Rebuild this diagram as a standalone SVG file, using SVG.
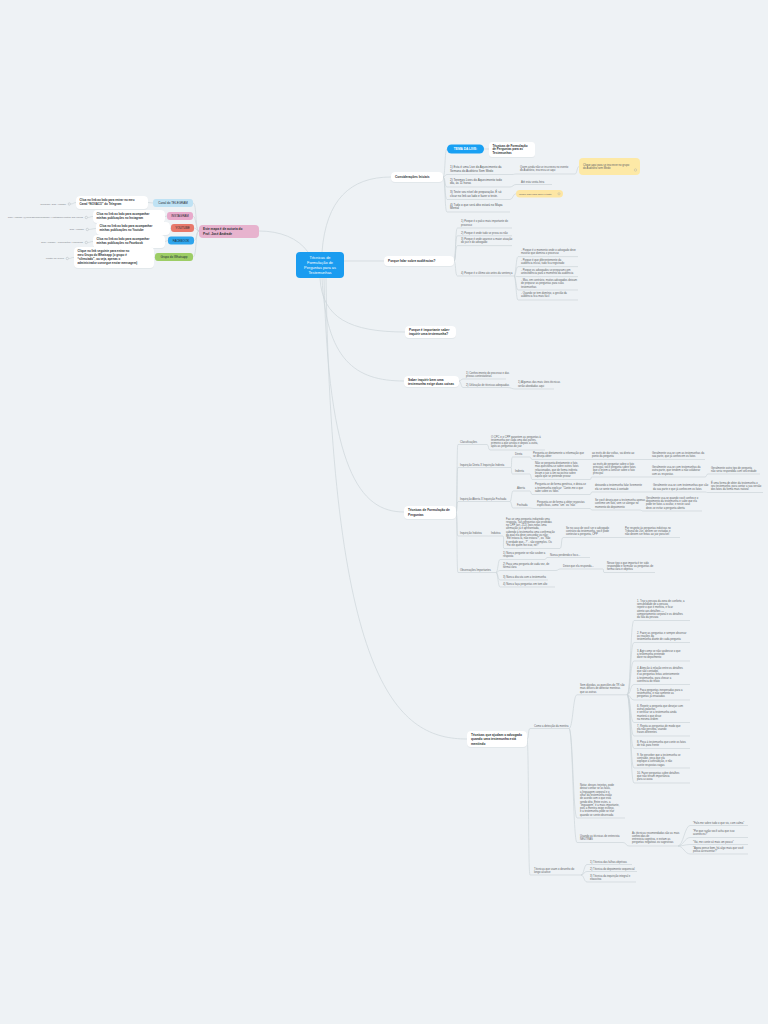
<svg xmlns="http://www.w3.org/2000/svg" width="768" height="1024" viewBox="0 0 768 1024">
<defs>
<filter id="sh" x="-10%" y="-30%" width="120%" height="160%"><feDropShadow dx="0" dy="0.4" stdDeviation="0.5" flood-color="#7d8e99" flood-opacity="0.25"/></filter>
<style>
text{font-family:"Liberation Sans",Arial,sans-serif}
.c{fill:none;stroke:#cdd5da;stroke-width:.7}
.n{fill:#fff;filter:url(#sh)}
.b{font-size:3.2px;font-weight:bold;fill:#2d3135}
.s{font-size:2.7px;fill:#5d6266}
.s2{font-size:3px;fill:#55595d}
.w{font-size:2.9px;font-weight:bold;fill:#2d3135}
.l{font-size:2.4px;fill:#7b8085;text-anchor:end}
.lab{font-size:3px;fill:#1f2a33;text-anchor:middle}
.ic{fill:none;stroke:#9aa2a8;stroke-width:.35}
</style>
</defs>
<rect width="768" height="1024" fill="#eef2f5"/>

<g id="connectors">
<path class="c" d="M308,252 C298,238 280,231 259,231"/>
<path class="c" d="M199,231 C195,231 197,203 193,203"/>
<path class="c" d="M199,231 C196,231 196,216 193,216"/>
<path class="c" d="M199,231 C196,231 197,228 194,228"/>
<path class="c" d="M199,231 C196,231 197,240.5 194,240.5"/>
<path class="c" d="M199,231 C195,231 197,257 193,257"/>
<path class="c" d="M153,203 L148,202.5"/>
<path class="c" d="M167,216 L165,216.5"/>
<path class="c" d="M171,228 L170,228.5"/>
<path class="c" d="M168,240.5 L165,241.5"/>
<path class="c" d="M155,257 L154,257.5"/>
<path class="c" d="M76,202.5 C74,202.5 73,204 71,204"/>
<path class="c" d="M93,216.5 C90,216.5 90,217.5 88,217.5"/>
<path class="c" d="M96,228.5 C93,228.5 91,229.5 89,229.5"/>
<path class="c" d="M93,241.5 C90,241.5 90,242.5 88,242.5"/>
<path class="c" d="M74,257.5 C71,257.5 71,258.5 69,258.5"/>

<path class="c" d="M322,252 C326,200 350,177 391,177"/>
<path class="c" d="M344,261 L384,261"/>
<path class="c" d="M320,278 C322,318 350,332 405,332"/>
<path class="c" d="M322,278 C326,360 355,381 404,381"/>
<path class="c" d="M324,278 C328,470 360,512 404,512"/>
<path class="c" d="M326,278 C332,690 400,739 467,739"/>

<path class="c" d="M443,177 C445.5,177 444.5,149 447,149"/>
<path class="c" d="M484,149 H489"/>
<path class="c" d="M443,177 C445.5,177 444.5,174.5 447,174.5 H512"/>
<path class="c" d="M443,177 C445.5,177 444.5,187 447,187 H510"/>
<path class="c" d="M443,177 C445.5,177 444.5,199.5 447,199.5 H510"/>
<path class="c" d="M443,177 C445.5,177 444.5,212 447,212 H510"/>
<path class="c" d="M512,174.5 C514,174.5 514,174 516,174 H575 C577,174 577,166.5 579,166.5"/>
<path class="c" d="M510,187 C513,187 513,184.5 516,184.5 H552"/>
<path class="c" d="M510,199.5 C513,199.5 513,193.7 516,193.7"/>

<path class="c" d="M454,261 C456,261 455,228 457.5,228 H512"/>
<path class="c" d="M454,261 C456,261 455,235.8 457.5,235.8 H512"/>
<path class="c" d="M454,261 C456,261 455,245.6 457.5,245.6 H512"/>
<path class="c" d="M454,261 C456,261 455,276 457.5,276 H514"/>
<path class="c" d="M514,276 C516,276 516,256.6 518,256.6 H578"/>
<path class="c" d="M514,276 C516,276 516,266.6 518,266.6 H578"/>
<path class="c" d="M514,276 C516,276 516,276.6 518,276.6 H578"/>
<path class="c" d="M514,276 C516,276 516,290 518,290 H578"/>
<path class="c" d="M514,276 C516,276 516,300 518,300 H578"/>

<path class="c" d="M459,381 C461,381 461,379 463,379 H506"/>
<path class="c" d="M459,381 C461,381 461,387.5 463,387.5 H508 C511,387.5 512,389 515,389 H554"/>

<path class="c" d="M456,512 C457.5,512 456.5,444.5 458,444.5 H487 C489,444.5 488,450 490,450 H545"/>
<path class="c" d="M456,512 C457.5,512 456.5,467.5 458,467.5 H511"/>
<path class="c" d="M456,512 C457.5,512 456.5,501.5 458,501.5 H510"/>
<path class="c" d="M456,512 C457.5,512 456.5,536 458,536 H487 C488.5,536 488.5,536 490,536 H503 C504.5,536 502.5,548.5 504,548.5 H560 C562,548.5 561,537.5 563,537.5 H680"/>
<path class="c" d="M456,512 C457.5,512 456.5,572.5 458,572.5 H496"/>
<path class="c" d="M511,467.5 C512,467.5 511,457 512.5,457 H530 C531,457 531,459.5 532,459.5 H705"/>
<path class="c" d="M511,467.5 C512,467.5 511,474 512.5,474 H530 C531,474 531,479.5 532,479.5 H590 C592,479.5 590,477 592,477 H705 C707,477 706,474 708,474 H760"/>
<path class="c" d="M510,501.5 C511.5,501.5 511.5,491 513,491 H530 C531,491 531,494.5 532,494.5 H590 C591,494.5 591,492 592,492 H705 C707,492 706,492.5 708,492.5 H763"/>
<path class="c" d="M510,501.5 C511.5,501.5 511.5,508 513,508 H530 C531,508 533,508.5 534,508.5 H590 C591,508.5 591,510 592,510 H640 C641.5,510 641.5,511 643,511 H702"/>
<path class="c" d="M496,572.5 C498,572.5 498,559.5 500,559.5 H545 C546,559.5 546,557.5 547,557.5 H590"/>
<path class="c" d="M496,572.5 C498,572.5 498,570.5 500,570.5 H556 C558,570.5 558,569 560,569 H603 C604,569 603,572.5 604,572.5 H655"/>
<path class="c" d="M496,572.5 C498,572.5 498,580 500,580 H548"/>
<path class="c" d="M496,572.5 C498,572.5 498,587 500,587 H555"/>

<path class="c" d="M527,739 C529,739 528,728.5 530,728.5 H569"/>
<path class="c" d="M527,739 C529,739 528,875 530,875 H581"/>
<path class="c" d="M569,728.5 C573,728.5 573,694.8 577,694.8 H627"/>
<path class="c" d="M569,728.5 C573,728.5 573,818 577,818 H625"/>
<path class="c" d="M569,728.5 C573,728.5 573,842.5 577,842.5 H623 C626,842.5 626,846 629,846 H678"/>
<path class="c" d="M627,694.8 C631,694.8 630,620.5 634,620.5 H690"/>
<path class="c" d="M627,694.8 C631,694.8 630,642.5 634,642.5 H690"/>
<path class="c" d="M627,694.8 C631,694.8 630,661 634,661 H690"/>
<path class="c" d="M627,694.8 C631,694.8 630,684.5 634,684.5 H690"/>
<path class="c" d="M627,694.8 C631,694.8 630,700 634,700 H690"/>
<path class="c" d="M627,694.8 C631,694.8 630,722.5 634,722.5 H690"/>
<path class="c" d="M627,694.8 C631,694.8 630,736 634,736 H690"/>
<path class="c" d="M627,694.8 C631,694.8 630,748.5 634,748.5 H690"/>
<path class="c" d="M627,694.8 C631,694.8 630,768 634,768 H690"/>
<path class="c" d="M627,694.8 C631,694.8 630,783 634,783 H690"/>
<path class="c" d="M678,846 C683,846 685,825.5 690,825.5 H748"/>
<path class="c" d="M678,846 C683,846 685,837.5 690,837.5 H748"/>
<path class="c" d="M678,846 C683,846 685,844.5 690,844.5 H748"/>
<path class="c" d="M678,846 C683,846 685,854 690,854 H748"/>
<path class="c" d="M581,875 C584,875 584,864.5 587,864.5 H632"/>
<path class="c" d="M581,875 C584,875 584,871.5 587,871.5 H637"/>
<path class="c" d="M581,875 C584,875 584,882 587,882 H636"/>
</g>

<g id="root">
<rect x="296" y="252" width="48" height="26" rx="4" fill="#1a9cf0"/>
<text font-size="3.9" fill="#fff" text-anchor="middle"><tspan x="320" y="259">Técnicas de</tspan><tspan x="320" y="264">Formulação de</tspan><tspan x="320" y="269">Perguntas para as</tspan><tspan x="320" y="274">Testemunhas</tspan></text>
</g>

<g id="n-mapa">
<rect x="199" y="225" width="60" height="13" rx="4" fill="#e7b3ce"/>
<text class="b"><tspan x="203" y="230.3">Este mapa é de autoria do</tspan><tspan x="203" y="234.8">Prof. José Andrade</tspan></text>
</g>
<g id="n-telegram"><rect x="153" y="199" width="40" height="8" rx="3" fill="#bfe2f4"/><text class="lab" x="173" y="204.1">Canal do TELEGRAM</text></g>
<g id="n-instagram"><rect x="167" y="212" width="26" height="8" rx="3" fill="#e8aacb"/><text class="lab" x="180" y="217.1">INSTAGRAM</text></g>
<g id="n-youtube"><rect x="171" y="224" width="23" height="8" rx="3" fill="#e8796b"/><text class="lab" x="182.5" y="229.1">YOUTUBE</text></g>
<g id="n-facebook"><rect x="168" y="236.5" width="26" height="8" rx="3" fill="#2ea5ed"/><text class="lab" x="181" y="241.6">FACEBOOK</text></g>
<g id="n-whatsapp"><rect x="155" y="253" width="38" height="8" rx="3" fill="#9dcd66"/><text class="lab" x="174" y="258.1">Grupo do Whatsapp</text></g>

<g id="t-telegram"><rect class="n" x="76" y="196" width="72" height="13" rx="4"/><text class="w"><tspan x="79.5" y="201.2">Clica no link ao lado para entrar no meu</tspan><tspan x="79.5" y="205.2">Canal “NOVACO” do Telegram</tspan></text></g>
<g id="t-instagram"><rect class="n" x="93" y="210" width="72" height="13" rx="4"/><text class="w"><tspan x="96.5" y="215.2">Clica no link ao lado para acompanhar</tspan><tspan x="96.5" y="219.2">minhas publicações no Instagram</tspan></text></g>
<g id="t-youtube"><rect class="n" x="96" y="222" width="74" height="13" rx="4"/><text class="w"><tspan x="99.5" y="227.2">Clica no link ao lado para acompanhar</tspan><tspan x="99.5" y="231.2">minhas publicações no Youtube</tspan></text></g>
<g id="t-facebook"><rect class="n" x="93" y="235" width="72" height="13" rx="4"/><text class="w"><tspan x="96.5" y="240.2">Clica no link ao lado para acompanhar</tspan><tspan x="96.5" y="244.2">minhas publicações no Facebook</tspan></text></g>
<g id="t-whatsapp"><rect class="n" x="74" y="247" width="80" height="21" rx="4"/><text class="w"><tspan x="77.5" y="252">Clique no link seguinte para entrar no</tspan><tspan x="77.5" y="256">meu Grupo do Whatsapp (o grupo é</tspan><tspan x="77.5" y="260">“silenciado”, ou seja, apenas o</tspan><tspan x="77.5" y="264">administrador consegue enviar mensagem)</tspan></text></g>

<g id="l-telegram"><text class="l" x="66" y="204.8">Telegram: José Andrade</text><circle class="ic" cx="69.3" cy="204" r="1.2"/></g>
<g id="l-instagram"><text class="l" x="83" y="218.3">José Andrade (@professorjoseandrade) • Instagram photos and videos</text><circle class="ic" cx="86.3" cy="217.5" r="1.2"/></g>
<g id="l-youtube"><text class="l" x="84" y="230.3">José Andrade</text><circle class="ic" cx="87.3" cy="229.5" r="1.2"/></g>
<g id="l-facebook"><text class="l" x="83" y="243.3">José Andrade - Publicações | Facebook</text><circle class="ic" cx="86.3" cy="242.5" r="1.2"/></g>
<g id="l-whatsapp"><text class="l" x="64" y="259.3">WhatsApp Group</text><circle class="ic" cx="67.3" cy="258.5" r="1.2"/></g>

<g id="n-consideracoes"><rect class="n" x="391" y="172" width="52" height="10" rx="4"/><text class="b" x="395" y="178.2">Considerações Iniciais</text></g>
<g id="n-tema"><rect x="447" y="144.5" width="37" height="9" rx="4.5" fill="#18a0f3"/><text x="465.5" y="150.3" font-size="3.2" font-weight="bold" fill="#fff" text-anchor="middle">TEMA DA LIVE:</text></g>
<g id="n-tema-txt"><rect class="n" x="489" y="142" width="46" height="15" rx="3"/><text font-size="3" font-weight="bold" fill="#2d3135"><tspan x="492.5" y="146.5">Técnicas de Formulação</tspan><tspan x="492.5" y="150.3">de Perguntas para as</tspan><tspan x="492.5" y="154.1">Testemunhas</tspan></text></g>
<g id="i1"><text class="s2"><tspan x="450" y="168">1) Esta é uma Live do Aquecimento da</tspan><tspan x="450" y="171.8">Semana do Auditório Sem Medo</tspan></text></g>
<g id="i2"><text class="s2"><tspan x="450" y="180.5">2) Teremos Lives do Aquecimento todo</tspan><tspan x="450" y="184.3">dia, às 11 horas</tspan></text></g>
<g id="i3"><text class="s2"><tspan x="450" y="193">3) Teste seu nível de preparação. É só</tspan><tspan x="450" y="196.8">clicar no link ao lado e fazer o teste.</tspan></text></g>
<g id="i4"><text class="s2"><tspan x="450" y="205.5">4) Tudo o que será dito estará no Mapa</tspan><tspan x="450" y="209.3">Mental</tspan></text></g>
<g id="i1c"><text class="s"><tspan x="520" y="168">Quem ainda não se inscreveu no evento</tspan><tspan x="520" y="171.4">do Auditório, inscreva-se aqui</tspan></text></g>
<g id="i1y"><rect x="579" y="158" width="61" height="17" rx="4" fill="#fde9a6"/><text class="s"><tspan x="583" y="165.5">Clique aqui para se inscrever no grupo</tspan><tspan x="583" y="169">do Auditório sem Medo</tspan></text><circle class="ic" cx="635.5" cy="170" r="1.2"/></g>
<g id="i2c"><text class="s" x="521" y="183">Até esta sexta-feira</text></g>
<g id="i3y"><rect x="516" y="190" width="47" height="7.5" rx="3.7" fill="#fde6a3"/><text x="519" y="194.8" font-size="2.5" fill="#5d6266">Clique aqui para fazer o teste</text><circle class="ic" cx="559" cy="193.8" r="1.1"/></g>

<g id="n-porque-falar"><rect class="n" x="384" y="256" width="70" height="10" rx="4"/><text class="b" x="388" y="262.2">Porque falar sobre audiências?</text></g>
<g id="p1"><text class="s"><tspan x="461" y="222.3">1) Porque é o palco mais importante do</tspan><tspan x="461" y="225.6">processo</tspan></text></g>
<g id="p2"><text class="s" x="461" y="233.6">2) Porque é onde tudo se prova ou não</text></g>
<g id="p3"><text class="s"><tspan x="461" y="239.8">3) Porque é onde aparece a maior atuação</tspan><tspan x="461" y="243.1">do juiz e do advogado</tspan></text></g>
<g id="p4"><text class="s" x="461" y="273.8">4) Porque é o último ato antes da sentença</text></g>
<g id="q1"><text class="s"><tspan x="521" y="250.8">- Porque é o momento onde o advogado deve</tspan><tspan x="521" y="254.1">mostrar que domina o processo</tspan></text></g>
<g id="q2"><text class="s"><tspan x="521" y="260.8">- Porque é que diferentemente da</tspan><tspan x="521" y="264.1">audiência inicial, tudo fica registrado</tspan></text></g>
<g id="q3"><text class="s"><tspan x="521" y="270.8">- Porque os advogados se preparam com</tspan><tspan x="521" y="274.1">antecedência para o momento da audiência</tspan></text></g>
<g id="q4"><text class="s"><tspan x="521" y="281">- Mas, em contrário, muitos advogados deixam</tspan><tspan x="521" y="284.3">de preparar as perguntas para suas</tspan><tspan x="521" y="287.6">testemunhas</tspan></text></g>
<g id="q5"><text class="s"><tspan x="521" y="294">- Quando se tem domínio, a gestão da</tspan><tspan x="521" y="297.3">audiência fica mais fácil</tspan></text></g>

<g id="n-importante"><rect class="n" x="405" y="326" width="51" height="12" rx="4"/><text class="b"><tspan x="409" y="331">Porque é importante saber</tspan><tspan x="409" y="335.4">inquirir uma testemunha?</tspan></text></g>

<g id="n-saber"><rect class="n" x="404" y="376" width="55" height="11" rx="4"/><text class="b"><tspan x="408" y="380.6">Saber inquirir bem uma</tspan><tspan x="408" y="384.8">testemunha exige duas coisas</tspan></text></g>
<g id="s1"><text class="s"><tspan x="466" y="373.5">1) Conhecimento do processo e das</tspan><tspan x="466" y="376.8">provas contestatórias</tspan></text></g>
<g id="s2"><text class="s" x="466" y="385.5">2) Utilização de técnicas adequadas</text></g>
<g id="s2c"><text class="s"><tspan x="518" y="383.3">1) Algumas das mais úteis técnicas</tspan><tspan x="518" y="386.6">serão abordadas aqui</tspan></text></g>

<g id="n-tecnicas"><rect class="n" x="404" y="506" width="52" height="13" rx="4"/><text class="b"><tspan x="408" y="511.2">Técnicas de Formulação de</tspan><tspan x="408" y="515.6">Perguntas</tspan></text></g>
<g id="c1"><text class="s" x="460" y="442.5">Classificações</text></g>
<g id="c1c"><text class="s"><tspan x="491" y="437.5">O CPC e o CPP garantem as perguntas à</tspan><tspan x="491" y="440.8">testemunha por cada uma das partes,</tspan><tspan x="491" y="444.1">primeiro a que arrolou e depois a outra,</tspan><tspan x="491" y="447.4">após as perguntas do juiz</tspan></text></g>
<g id="c2"><text class="s" x="460" y="465.5">Inquirição Direta X Inquirição Indireta</text></g>
<g id="c2a"><text class="s" x="515" y="455">Direta</text></g>
<g id="c2a1"><text class="s"><tspan x="533" y="454">Pergunta-se diretamente a informação que</tspan><tspan x="533" y="457.3">se deseja obter</tspan></text></g>
<g id="c2a2"><text class="s"><tspan x="592" y="454">ao invés de dar voltas, vai direto ao</tspan><tspan x="592" y="457.3">ponto da pergunta</tspan></text></g>
<g id="c2a3"><text class="s"><tspan x="652" y="454">Geralmente usa-se com as testemunhas da</tspan><tspan x="652" y="457.3">sua parte, que já conhecem os fatos</tspan></text></g>
<g id="c2b"><text class="s" x="515" y="472">Indireta</text></g>
<g id="c2b1"><text class="s"><tspan x="535" y="464">Não se pergunta diretamente o fato,</tspan><tspan x="535" y="467.3">mas questiona-se sobre outros fatos</tspan><tspan x="535" y="470.6">relacionados, que de forma indireta</tspan><tspan x="535" y="473.9">levam o juiz a um raciocínio sobre</tspan><tspan x="535" y="477.2">aquilo que se pretende provar</tspan></text></g>
<g id="c2b2"><text class="s"><tspan x="593" y="464.5">ao invés de perguntar sobre o fato</tspan><tspan x="593" y="467.8">principal, você pergunta sobre fatos</tspan><tspan x="593" y="471.1">que o levem a concluir sobre o fato</tspan><tspan x="593" y="474.4">principal</tspan></text></g>
<g id="c2b3"><text class="s"><tspan x="652" y="468">Geralmente usa-se com testemunhas da</tspan><tspan x="652" y="471.3">outra parte, que tendem a não colaborar</tspan><tspan x="652" y="474.6">com as respostas</tspan></text></g>
<g id="c2b4"><text class="s"><tspan x="711" y="468.5">Geralmente outro tipo de pergunta</tspan><tspan x="711" y="471.8">não seria respondida com sinceridade</tspan></text></g>
<g id="c3"><text class="s" x="460" y="499.5">Inquirição Aberta X Inquirição Fechada</text></g>
<g id="c3a"><text class="s" x="517" y="489">Aberta</text></g>
<g id="c3a1"><text class="s"><tspan x="535" y="485.3">Pergunta-se de forma genérica, e deixa-se</tspan><tspan x="535" y="488.6">a testemunha explicar: “Conte-me o que</tspan><tspan x="535" y="491.9">sabe sobre os fatos”</tspan></text></g>
<g id="c3a2"><text class="s"><tspan x="595" y="486.3">deixando a testemunha falar livremente</tspan><tspan x="595" y="489.6">ela se sente mais à vontade</tspan></text></g>
<g id="c3a3"><text class="s"><tspan x="653" y="486.3">Geralmente usa-se com testemunhas que são</tspan><tspan x="653" y="489.6">da sua parte e que já conhecem os fatos</tspan></text></g>
<g id="c3a4"><text class="s"><tspan x="711" y="483.5">É uma forma de obter da testemunha o</tspan><tspan x="711" y="486.8">seu testemunho, para contar a sua versão</tspan><tspan x="711" y="490.1">dos fatos da forma mais natural</tspan></text></g>
<g id="c3b"><text class="s" x="517" y="506">Fechada</text></g>
<g id="c3b1"><text class="s"><tspan x="537" y="503">Pergunta-se de forma a obter respostas</tspan><tspan x="537" y="506.3">específicas, como “sim” ou “não”</tspan></text></g>
<g id="c3b2"><text class="s"><tspan x="595" y="501">Se você deseja que a testemunha apenas</tspan><tspan x="595" y="504.3">confirme um fato, sem se alongar no</tspan><tspan x="595" y="507.6">momento do depoimento</tspan></text></g>
<g id="c3b3"><text class="s"><tspan x="646" y="498.6">Geralmente usa-se quando você conhece o</tspan><tspan x="646" y="501.9">depoimento da testemunha e sabe que ela</tspan><tspan x="646" y="505.2">pode ter fatos a ocultar, e neste caso</tspan><tspan x="646" y="508.5">deve-se evitar a pergunta aberta</tspan></text></g>
<g id="c4"><text class="s" x="460" y="534">Inquirição Indutiva</text></g>
<g id="c4a"><text class="s" x="491" y="534">Indutiva</text></g>
<g id="c4a1"><text class="s"><tspan x="506" y="519.5">Faz-se uma pergunta induzindo uma</tspan><tspan x="506" y="522.8">resposta. Tais perguntas são proibidas</tspan><tspan x="506" y="526.1">no CPP (art. 212), pois nelas uma</tspan><tspan x="506" y="529.4">afirmação já é apresentada,</tspan><tspan x="506" y="532.7">cabendo à testemunha uma confirmação</tspan><tspan x="506" y="536">da qual ela deve concordar ou não:</tspan><tspan x="506" y="539.3">“Ele estava lá, não estava?”, ou “Não</tspan><tspan x="506" y="542.6">é verdade que...?” - são exemplos. Ou</tspan><tspan x="506" y="545.9">“Foi ele quem fez isso, né?”</tspan></text></g>
<g id="c4a2"><text class="s"><tspan x="566" y="528.5">Se no caso de você ser o advogado</tspan><tspan x="566" y="531.8">contrário da testemunha, você pode</tspan><tspan x="566" y="535.1">contestar a pergunta, CPP</tspan></text></g>
<g id="c4a3"><text class="s"><tspan x="625" y="528.5">Por respeito às perguntas indutivas no</tspan><tspan x="625" y="531.8">Tribunal do Júri, devem ser evitadas e</tspan><tspan x="625" y="535.1">não devem ser feitas ao juiz possível</tspan></text></g>
<g id="c5"><text class="s" x="460" y="570.5">Observações Importantes</text></g>
<g id="o1"><text class="s"><tspan x="503" y="554">1) Nunca pergunte se não souber a</tspan><tspan x="503" y="557.3">resposta</tspan></text></g>
<g id="o1c"><text class="s" x="550" y="555.5">Nunca perdendo o foco...</text></g>
<g id="o2"><text class="s"><tspan x="503" y="565">2) Faça uma pergunta de cada vez, de</tspan><tspan x="503" y="568.3">forma clara</tspan></text></g>
<g id="o2c"><text class="s" x="563" y="567">Deixe que ela responda...</text></g>
<g id="o2c2"><text class="s"><tspan x="607" y="563.5">Nesse tipo o que importa é ter sido</tspan><tspan x="607" y="566.8">respondido e formular as perguntas de</tspan><tspan x="607" y="570.1">forma clara e objetiva</tspan></text></g>
<g id="o3"><text class="s" x="503" y="578">3) Nunca discuta com a testemunha</text></g>
<g id="o4"><text class="s" x="503" y="585">4) Nunca faça perguntas em tom alto</text></g>

<g id="n-mentira"><rect class="n" x="467" y="731" width="60" height="16" rx="4"/><text class="b"><tspan x="471" y="736.2">Técnicas que ajudam o advogado</tspan><tspan x="471" y="740.4">quando uma testemunha está</tspan><tspan x="471" y="744.6">mentindo</tspan></text></g>
<g id="m1"><text class="s" x="534" y="726.5">Como a detecção da mentira</text></g>
<g id="m1a"><text class="s"><tspan x="580" y="686">Sem dúvidas, as questões do TR são</tspan><tspan x="580" y="689.3">mais difíceis de detectar mentiras</tspan><tspan x="580" y="692.6">que as outras</tspan></text></g>
<g id="li1"><text class="s"><tspan x="637" y="602">1. Tirar a pessoa da zona de conforto, a</tspan><tspan x="637" y="605.2">sensibilidade de a pessoa</tspan><tspan x="637" y="608.4">repetir o que é mentira, e ficar</tspan><tspan x="637" y="611.6">atento aos detalhes —</tspan><tspan x="637" y="614.8">comportamento corporal e os detalhes</tspan><tspan x="637" y="618">da fala da pessoa</tspan></text></g>
<g id="li2"><text class="s"><tspan x="637" y="634">2. Fazer as perguntas e sempre observar</tspan><tspan x="637" y="637.2">as reações da</tspan><tspan x="637" y="640.4">testemunha diante de cada pergunta</tspan></text></g>
<g id="li3"><text class="s"><tspan x="637" y="652">3. Agir como se não soubesse o que</tspan><tspan x="637" y="655.2">a testemunha pretende</tspan><tspan x="637" y="658.4">dizer no depoimento</tspan></text></g>
<g id="li4"><text class="s"><tspan x="637" y="669">4. Atenção à relação entre os detalhes</tspan><tspan x="637" y="672.2">que são contados</tspan><tspan x="637" y="675.4">e as perguntas feitas anteriormente</tspan><tspan x="637" y="678.6">à testemunha, para checar a</tspan><tspan x="637" y="681.8">coerência do relato</tspan></text></g>
<g id="li5"><text class="s"><tspan x="637" y="691">5. Faça perguntas inesperadas para a</tspan><tspan x="637" y="694.2">testemunha, e não somente as</tspan><tspan x="637" y="697.4">perguntas já ensaiadas</tspan></text></g>
<g id="li6"><text class="s"><tspan x="637" y="707">6. Repetir a pergunta que desejar com</tspan><tspan x="637" y="710.2">outras palavras</tspan><tspan x="637" y="713.4">e verificar se a testemunha ainda</tspan><tspan x="637" y="716.6">manterá o que disse</tspan><tspan x="637" y="719.8">na mesma ordem</tspan></text></g>
<g id="li7"><text class="s"><tspan x="637" y="727">7. Repita as perguntas de modo que</tspan><tspan x="637" y="730.2">ela não perceba, usando</tspan><tspan x="637" y="733.4">frases diferentes</tspan></text></g>
<g id="li8"><text class="s"><tspan x="637" y="743">8. Peça à testemunha que conte os fatos</tspan><tspan x="637" y="746.2">de trás para frente</tspan></text></g>
<g id="li9"><text class="s"><tspan x="637" y="756">9. Se perceber que a testemunha se</tspan><tspan x="637" y="759.2">contradiz, peça que ela</tspan><tspan x="637" y="762.4">explique a contradição, e não</tspan><tspan x="637" y="765.6">aceite respostas vagas</tspan></text></g>
<g id="li10"><text class="s"><tspan x="637" y="774">10. Fazer perguntas sobre detalhes</tspan><tspan x="637" y="777.2">que não teriam importância</tspan><tspan x="637" y="780.4">para a causa</tspan></text></g>
<g id="m1b"><text class="s"><tspan x="580" y="786">Notar, desses trejeitos, pode</tspan><tspan x="580" y="789.3">deixar confiar se as falas,</tspan><tspan x="580" y="792.6">a linguagem corporal e o</tspan><tspan x="580" y="795.9">olhar da testemunha estão</tspan><tspan x="580" y="799.2">de acordo com o que está</tspan><tspan x="580" y="802.5">sendo dito. Entre estes, a</tspan><tspan x="580" y="805.8">“linguagem” é a mais importante,</tspan><tspan x="580" y="809.1">pois a mentira exige esforço,</tspan><tspan x="580" y="812.4">e a testemunha pode se trair</tspan><tspan x="580" y="815.7">quando se sente observada</tspan></text></g>
<g id="m1c"><text class="s"><tspan x="580" y="837">Usando as técnicas de entrevista</tspan><tspan x="580" y="840.3">NEUTRAS</tspan></text></g>
<g id="m1c1"><text class="s"><tspan x="632" y="833.5">As técnicas recomendadas são as mais</tspan><tspan x="632" y="836.8">conhecidas de</tspan><tspan x="632" y="840.1">entrevista cognitiva, e evitam as</tspan><tspan x="632" y="843.4">perguntas negativas ou sugestivas</tspan></text></g>
<g id="e1"><text class="s" x="693" y="823.5">“Fale-me sobre tudo o que viu, com calma”</text></g>
<g id="e2"><text class="s"><tspan x="693" y="832">“Por que razão você acha que isso</tspan><tspan x="693" y="835.3">aconteceu?”</tspan></text></g>
<g id="e3"><text class="s" x="693" y="842.5">“Vai, me conte só mais um pouco”</text></g>
<g id="e4"><text class="s"><tspan x="693" y="848.5">“Agora pense bem, há algo mais que você</tspan><tspan x="693" y="851.8">possa acrescentar?”</tspan></text></g>
<g id="m2"><text class="s"><tspan x="534" y="869.5">Técnicas que usam o desenho do</tspan><tspan x="534" y="872.8">longo alcance</tspan></text></g>
<g id="m2a"><text class="s" x="590" y="862.5">1) Técnica das falhas objetivas</text></g>
<g id="m2b"><text class="s" x="590" y="869.5">2) Técnica do depoimento sequencial</text></g>
<g id="m2c"><text class="s"><tspan x="590" y="876.5">3) Técnica da inquirição integral e</tspan><tspan x="590" y="879.8">exaustiva</tspan></text></g>
</svg>
